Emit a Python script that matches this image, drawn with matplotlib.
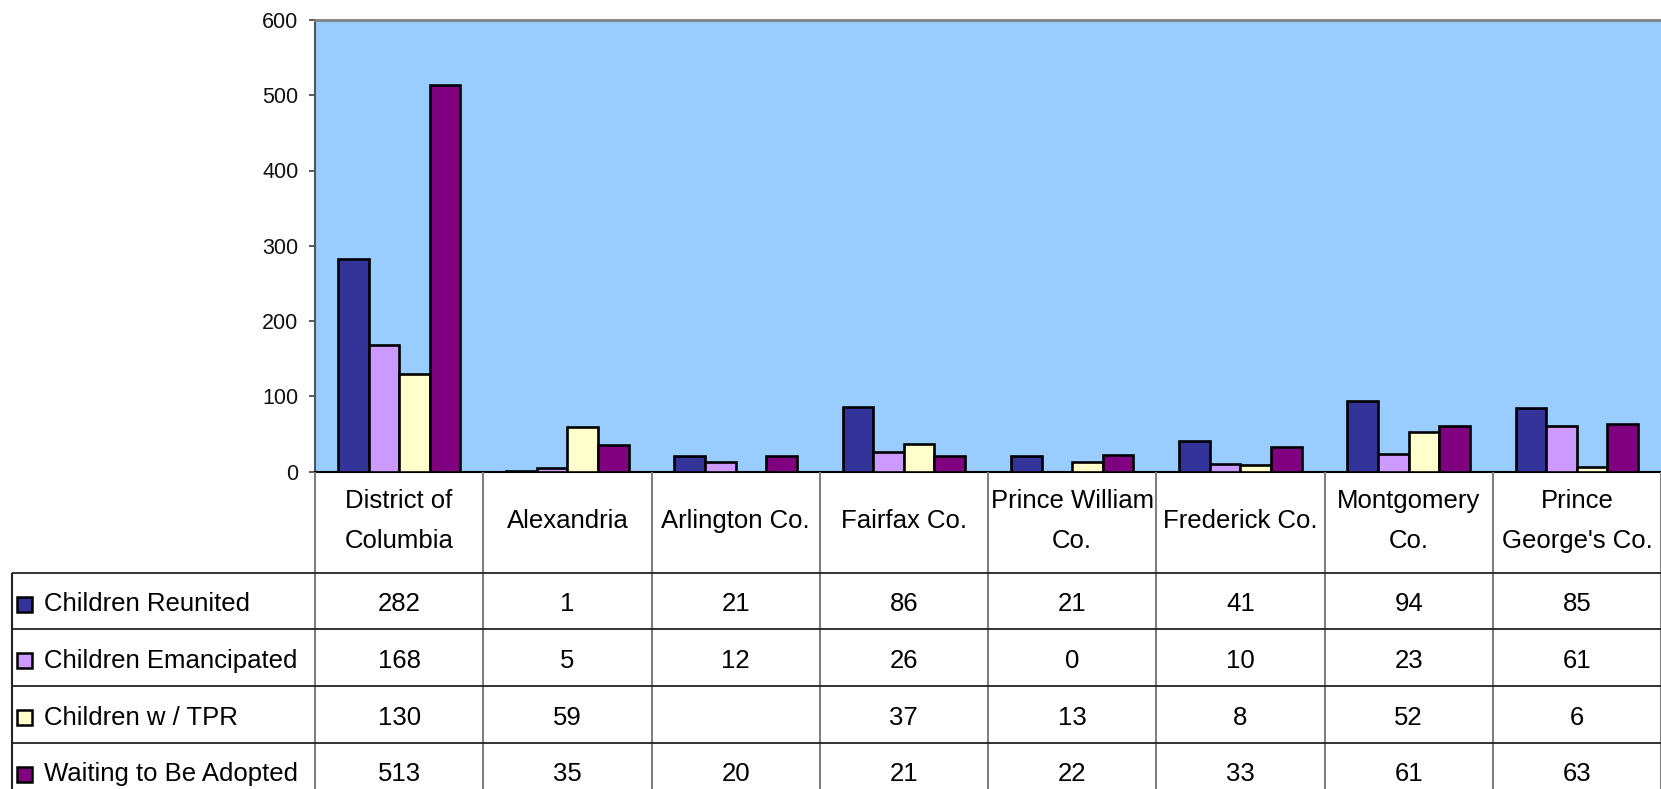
import numpy as np
import matplotlib
matplotlib.use("Agg")
import matplotlib.pyplot as plt
from matplotlib.patches import Rectangle

plt.rcParams['font.family'] = ['Liberation Sans', 'DejaVu Sans']

# ---------------- data ----------------
categories = ["District of\nColumbia", "Alexandria", "Arlington Co.", "Fairfax Co.",
              "Prince William\nCo.", "Frederick Co.", "Montgomery\nCo.", "Prince\nGeorge's Co."]
series_names = ["Children Reunited", "Children Emancipated", "Children w / TPR",
                "Waiting to Be Adopted"]
reunited = [282, 1, 21, 86, 21, 41, 94, 85]
emancipated = [168, 5, 12, 26, 0, 10, 23, 61]
tpr = [130, 59, None, 37, 13, 8, 52, 6]
waiting = [513, 35, 20, 21, 22, 33, 61, 63]
yticks = [0, 100, 200, 300, 400, 500, 600]

series = [reunited, emancipated, tpr, waiting]
colors = ["#333399", "#CC99FF", "#FFFFCC", "#800080"]

# ---------------- layout (pixels) ----------------
W, H = 1661, 789
plot_left, plot_right = 315, 1661
plot_top, plot_bottom = 20, 471.5
table_left = 12
header_h = 101
row_h = 56.7
ncat = len(categories)
colw = (plot_right - plot_left) / ncat

fig = plt.figure(figsize=(W / 100, H / 100), dpi=100)
fig.patch.set_facecolor("white")

# ---------------- bar chart ----------------
ax = fig.add_axes([plot_left / W, 1 - plot_bottom / H,
                   (plot_right - plot_left) / W, (plot_bottom - plot_top) / H])
ax.set_facecolor("#99CCFF")
x = np.arange(ncat)
bw = 1 / 5.5
for k, (vals, c) in enumerate(zip(series, colors)):
    v = np.array([np.nan if t is None else t for t in vals], dtype=float)
    ax.bar(x + (k - 1.5) * bw, v, width=bw, color=c, edgecolor="black",
           linewidth=1.9, zorder=3)
ax.set_xlim(-0.5, ncat - 0.5)
ax.set_ylim(yticks[0], yticks[-1])
ax.set_yticks(yticks)
ax.set_xticks([])
ax.tick_params(axis="y", direction="out", length=4, width=1.2, color="#404040",
               labelsize=15.5, pad=8)
for lab in ax.get_yticklabels():
    lab.set_color("#111111")
ax.spines["right"].set_visible(False)
ax.spines["top"].set_color("#808080")
ax.spines["top"].set_linewidth(2)
ax.spines["left"].set_color("#555555")
ax.spines["left"].set_linewidth(1.5)
ax.spines["bottom"].set_color("black")
ax.spines["bottom"].set_linewidth(1.5)

# ---------------- data table ----------------
tax = fig.add_axes([0, 0, 1, (H - plot_bottom) / H])
tax.set_xlim(-0.5 - plot_left / colw, ncat - 0.5)
tax.set_ylim((H - plot_bottom) / row_h, 0)
tax.axis("off")
h0 = header_h / row_h
xl = -0.5 - (plot_left - table_left) / colw
nrows = len(series)

# vertical lines
for i in range(ncat + 1):
    tax.plot([i - 0.5, i - 0.5], [0, h0 + nrows], color="#808080", lw=1.5,
             solid_capstyle="butt")
tax.plot([xl, xl], [h0, h0 + nrows], color="#222222", lw=1.5, solid_capstyle="butt")
# horizontal lines
for r in range(nrows + 1):
    tax.plot([xl, ncat - 0.5], [h0 + r, h0 + r], color="#222222", lw=1.3,
             solid_capstyle="butt")

# category headers
for i, cat in enumerate(categories):
    tax.text(i, h0 / 2 - 0.02, cat, ha="center", va="center", fontsize=18.5,
             linespacing=1.85, color="black")

# rows
sq = 15 / colw
for r, (name, vals, c) in enumerate(zip(series_names, series, colors)):
    yc = h0 + r + 0.56
    tax.add_patch(Rectangle((xl + 5 / colw, yc - 7.5 / row_h), sq, 15 / row_h,
                            facecolor=c, edgecolor="black", lw=1.8))
    tax.text(xl + 32 / colw, yc, name, ha="left", va="center", fontsize=18.5,
             color="black")
    for i, v in enumerate(vals):
        if v is not None:
            tax.text(i, yc, str(v), ha="center", va="center", fontsize=18.5,
                     color="black")

fig.savefig("out.png", dpi=100, facecolor="white")
